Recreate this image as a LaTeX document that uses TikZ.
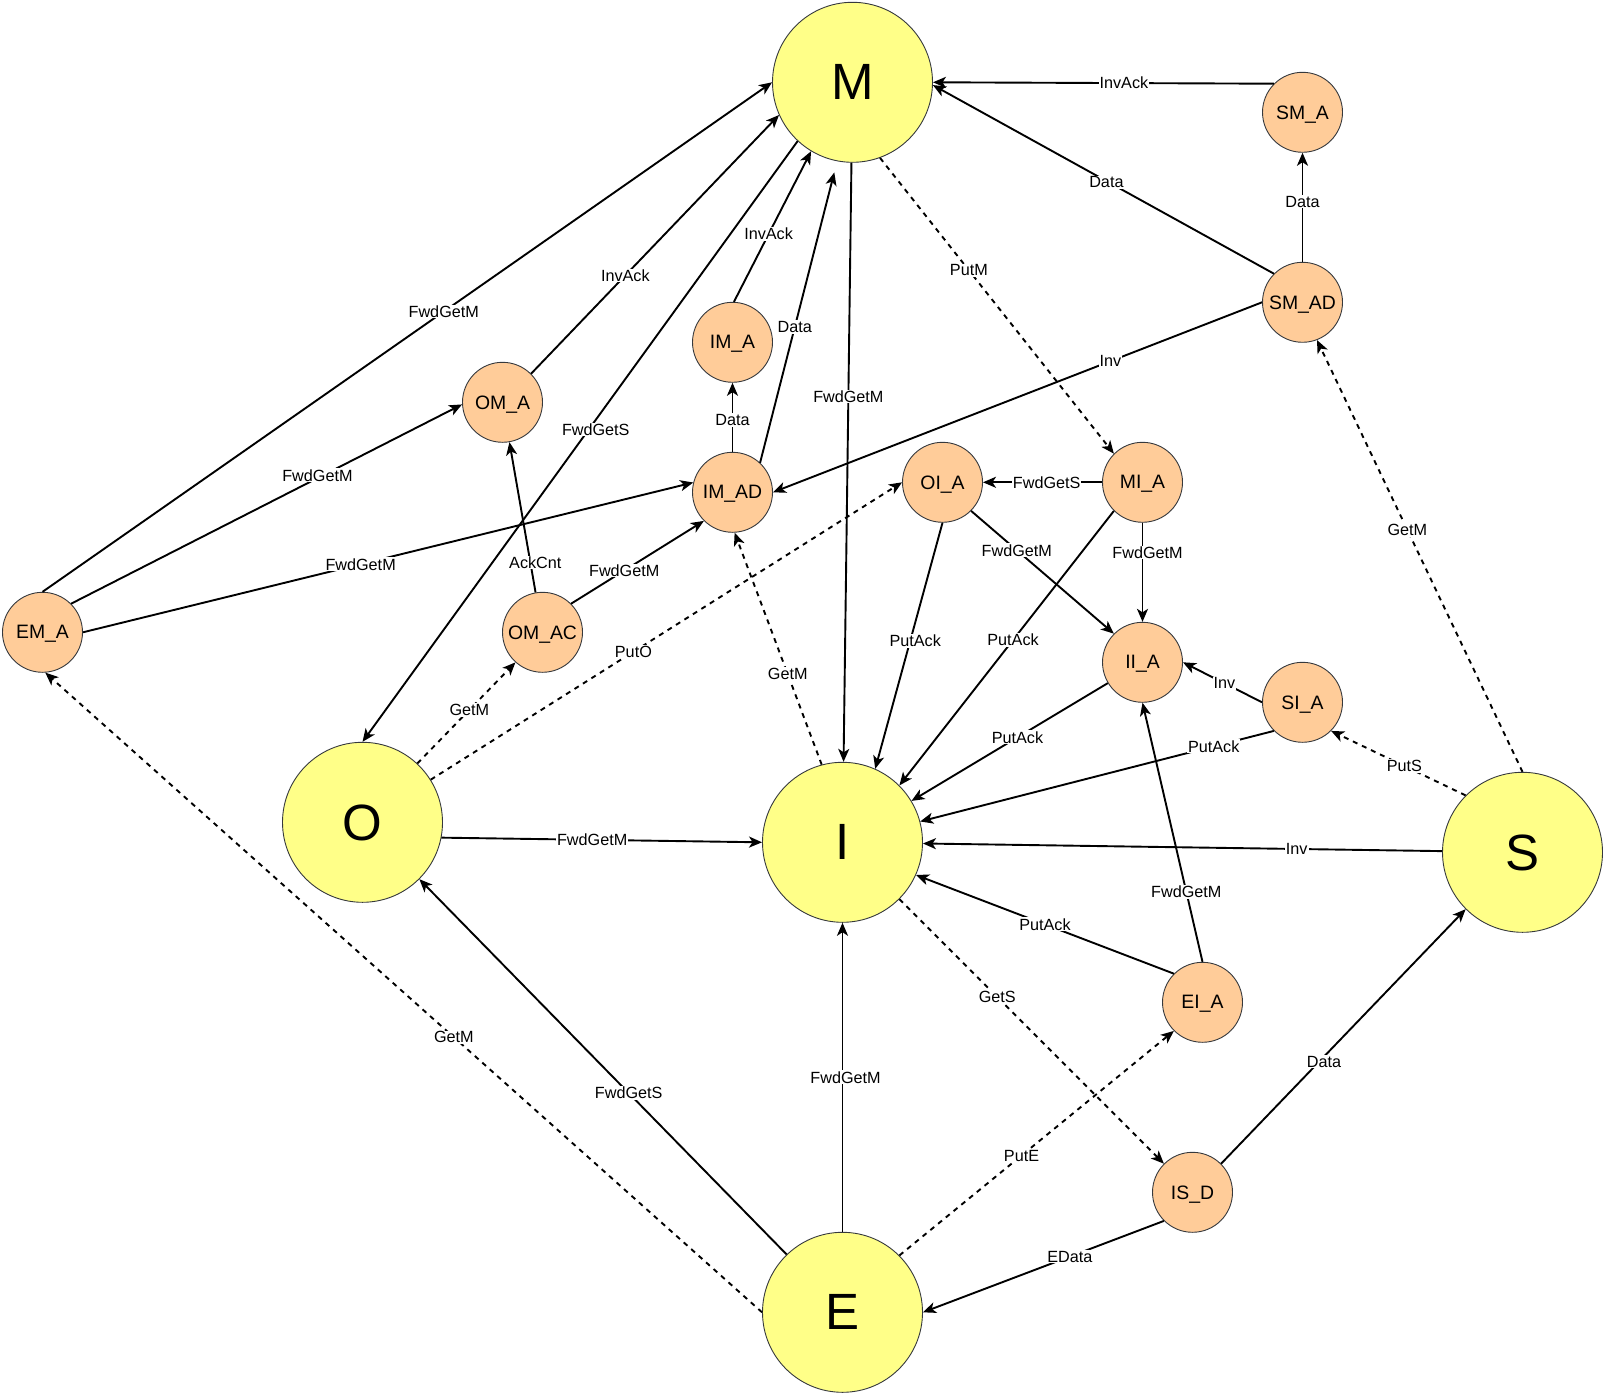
\documentclass[tikz,border=0pt]{standalone}
\usepackage{fontspec}
\setmainfont{Liberation Sans}
\usetikzlibrary{arrows.meta}
\definecolor{ylw}{HTML}{FFFF88}
\definecolor{org}{HTML}{FFCC99}
\definecolor{strk}{HTML}{36393D}
\begin{document}
\begin{tikzpicture}[x=1pt,y=-1pt,
  bignode/.style={circle, draw=strk, line width=0.9pt, fill=ylw, minimum size=160pt, inner sep=0pt, text depth=0pt, font=\fontsize{51}{51}\selectfont},
  smallnode/.style={circle, draw=strk, line width=0.9pt, fill=org, minimum size=80pt, inner sep=0pt, text depth=0pt, font=\fontsize{19.4}{20}\selectfont},
  conn/.style={line width=1.9pt, -{Stealth[length=13pt,width=11pt,inset=3.5pt]}},
  dsh/.style={conn, dash pattern=on 5pt off 5pt},
  lbl/.style={fill=white, inner sep=1pt, text depth=0pt, font=\fontsize{16.2}{17}\selectfont, text=black}
]
\useasboundingbox (0,0) rectangle (1606,1396);
% big states
\node[bignode] (M) at (852.5,82.3) {M};
\node[bignode] (I) at (842.5,842.3) {I};
\node[bignode] (O) at (362.5,822.3) {O};
\node[bignode] (S) at (1522.5,852.3) {S};
\node[bignode] (E) at (842.5,1312.3) {E};
% transient states
\node[smallnode] (SM_A) at (1302.5,112.3) {SM\_A};
\node[smallnode] (SM_AD) at (1302.5,302.3) {SM\_AD};
\node[smallnode] (IM_A) at (732.5,342.3) {IM\_A};
\node[smallnode] (IM_AD) at (732.5,492.3) {IM\_AD};
\node[smallnode] (OM_A) at (502.5,402.3) {OM\_A};
\node[smallnode] (OM_AC) at (542.5,632.3) {OM\_AC};
\node[smallnode] (EM_A) at (42.5,632.3) {EM\_A};
\node[smallnode] (OI_A) at (942.5,482.3) {OI\_A};
\node[smallnode] (MI_A) at (1142.5,482.3) {MI\_A};
\node[smallnode] (II_A) at (1142.5,662.3) {II\_A};
\node[smallnode] (SI_A) at (1302.5,702.3) {SI\_A};
\node[smallnode] (EI_A) at (1202.5,1002.3) {EI\_A};
\node[smallnode] (IS_D) at (1192.5,1192.3) {IS\_D};
% edges
\draw[conn] (SM_A.135) -- node[lbl,pos=0.44]{InvAck} (M.0);
\draw[conn] (SM_AD.135) -- node[lbl,pos=0.50,xshift=3pt,yshift=-3pt]{Data} (M.-2);
\draw[conn] (SM_AD) -- node[lbl,pos=0.55]{Data} (SM_A);
\draw[conn] (SM_AD.180) -- node[lbl,pos=0.31]{Inv} (IM_AD.0);
\draw[dsh] (S.90) -- node[lbl,pos=0.56]{GetM} (SM_AD.-69);
\draw[dsh] (M.-70) -- node[lbl,pos=0.38]{PutM} (MI_A.135);
\draw[conn] (M) -- node[lbl,pos=0.39]{FwdGetM} (I);
\draw[conn] (M.-133) -- node[lbl,pos=0.48,xshift=7pt]{FwdGetS} (O.90);
\draw[conn] (IM_A.88) -- node[lbl,pos=0.45]{InvAck} (M.-121);
\draw[conn, shorten >=11.5pt] (IM_AD.47) -- node[lbl,pos=0.45]{Data} (M.-101);
\draw[conn] (IM_AD) -- node[lbl,pos=0.46]{Data} (IM_A);
\draw[conn] (OM_A.45) -- node[lbl,pos=0.38]{InvAck} (M.204);
\draw[conn] (EM_A.90) -- node[lbl,pos=0.55]{FwdGetM} (M.180);
\draw[conn] (EM_A.45) -- node[lbl,pos=0.63,yshift=3pt]{FwdGetM} (OM_A.183);
\draw[conn] (EM_A.0) -- node[lbl,pos=0.455]{FwdGetM} (IM_AD.166);
\draw[conn] (OM_AC) -- node[lbl,pos=0.2,xshift=5pt]{AckCnt} (OM_A);
\draw[conn] (OM_AC.45) -- node[lbl,pos=0.40]{FwdGetM} (IM_AD.225);
\draw[dsh] (O.47) -- node[lbl,pos=0.53]{GetM} (OM_AC.228);
\draw[dsh] (O.32) -- node[lbl,pos=0.43]{PutO} (OI_A.180);
\draw[dsh] (I.105) -- node[lbl,pos=0.39]{GetM} (IM_AD.273);
\draw[conn] (O.-11) -- node[lbl,pos=0.47]{FwdGetM} (I.180);
\draw[conn] (E.134) -- node[lbl,pos=0.43]{FwdGetS} (O.-45);
\draw[dsh] (E.180) -- node[lbl,pos=0.43]{GetM} (EM_A.-86);
\draw[conn] (E) -- node[lbl,pos=0.5,xshift=3pt]{FwdGetM} (I);
\draw[dsh] (E.45) -- node[lbl,pos=0.445]{PutE} (EI_A.225);
\draw[dsh] (I.-45) -- node[lbl,pos=0.37]{GetS} (IS_D.135);
\draw[conn] (IS_D.225) -- node[lbl,pos=0.39]{EData} (E.0);
\draw[conn] (IS_D.45) -- node[lbl,pos=0.40,xshift=5pt]{Data} (S.225);
\draw[conn] (EI_A.135) -- node[lbl,pos=0.50]{PutAck} (I.-24);
\draw[conn] (EI_A.90) -- node[lbl,pos=0.27]{FwdGetM} (II_A.-90);
\draw[conn] (S) -- node[lbl,pos=0.28]{Inv} (I);
\draw[dsh] (S.135) -- node[lbl,pos=0.455]{PutS} (SI_A.-45);
\draw[conn] (SI_A.225) -- node[lbl,pos=0.17]{PutAck} (I.15);
\draw[conn] (SI_A.180) -- node[lbl,pos=0.475]{Inv} (II_A.0);
\draw[conn] (II_A) -- node[lbl,pos=0.46]{PutAck} (I);
\draw[conn] (MI_A.225) -- node[lbl,pos=0.47]{PutAck} (I.45);
\draw[conn] (MI_A) -- node[lbl,pos=0.3,xshift=5pt]{FwdGetM} (II_A);
\draw[conn] (MI_A) -- node[lbl,pos=0.465]{FwdGetS} (OI_A);
\draw[conn] (OI_A.-90) -- node[lbl,pos=0.48,xshift=5pt]{PutAck} (I.66);
\draw[conn] (OI_A.-45) -- node[lbl,pos=0.32]{FwdGetM} (II_A.135);
\end{tikzpicture}
\end{document}
